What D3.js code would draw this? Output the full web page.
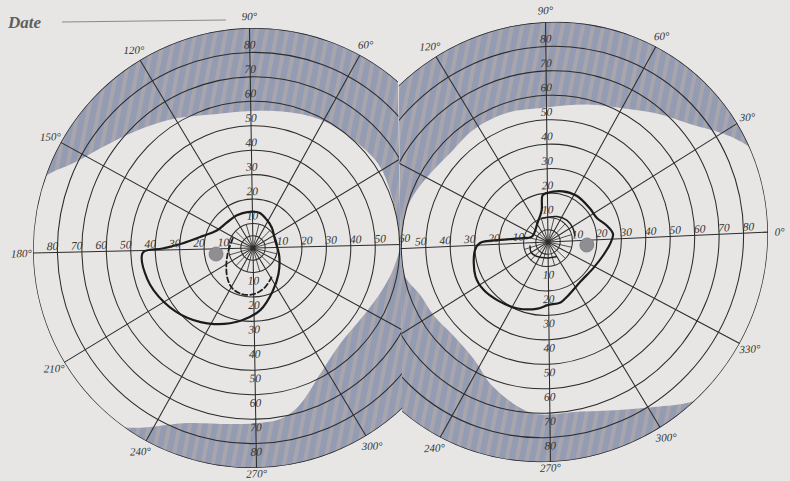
<!DOCTYPE html>
<html>
<head>
<meta charset="utf-8">
<script src="https://cdn.jsdelivr.net/npm/d3@7"></script>
<style>
  html, body { margin: 0; padding: 0; background: #e8e6e4; }
  svg { display: block; }
  text { font-family: "Liberation Serif", "DejaVu Serif", serif; font-style: italic; }
</style>
</head>
<body>
<svg id="chart" width="790" height="481"></svg>
<script>
// ---- Chart data --------------------------------------------------------
// Perimeter grid: isopter rings (degrees from fixation) and meridians.
const ringDegrees = [5, 10, 20, 30, 40, 50, 60, 70, 80, 90];
const meridians = [0, 30, 60, 90, 120, 150, 180, 210, 240, 270, 300, 330];
const innerMeridians = [15, 45, 75, 105, 135, 165, 195, 225, 255, 285, 315, 345];
const tickValues = [10, 20, 30, 40, 50, 60, 70, 80];

// Meridian labels printed around each field
const leftMeridianLabels = [60, 90, 120, 150, 180, 210, 240, 270, 300];
const rightMeridianLabels = [0, 30, 60, 90, 120, 240, 270, 300, 330];

// Ring numbers printed along the horizontal meridian
const leftEyeTicksTemporal = [80, 70, 60, 50, 40, 30, 20, 10];
const leftEyeTicksNasal = [10, 20, 30, 40, 50, 60];
const rightEyeTicksNasal = [50, 40, 30, 20, 10];
const rightEyeTicksTemporal = [10, 20, 30, 40, 50, 60, 70, 80];

// Normal field limits [meridian°, extent°]; outside is shaded
const leftNormalLimit = [
  [0, 60], [20, 60.5], [33, 61.5], [47, 60], [62, 59], [77, 57], [90, 56],
  [105, 57], [120, 62], [132, 67], [143, 73], [153, 81], [161, 91],
  [180, 96], [200, 96], [220, 96], [232, 91], [249, 76], [262, 72.5],
  [271, 71.6], [278, 71], [285, 67.5], [298, 58], [312, 53], [326, 53],
  [340, 55.5], [350, 58]
];
const rightNormalLimit = [
  [0, 96], [12, 96], [18, 93], [23, 90], [27, 86], [30.5, 82], [37, 75],
  [47, 68.5], [59, 62], [73, 58], [91, 55], [107, 56], [122, 56], [136, 55],
  [150, 57], [162, 59.5], [175, 60], [190, 60], [200, 56], [211, 54.7],
  [223, 53.5], [237, 56], [248, 62.4], [264, 70], [280, 71], [294, 76.5],
  [303, 82.7], [310, 89], [320, 96], [340, 96]
];

// Recorded fields [meridian°, extent°]
const leftFieldOuter = [
  [181, 45], [179, 37], [175, 29], [165, 21], [153, 16.5], [135, 15],
  [116, 15], [98, 14.9], [79, 14.6], [63, 12.8], [46, 11.3], [20, 9.6],
  [341, 11.3], [313, 15], [293, 19.6], [276, 25.5], [260, 30], [242, 34.8],
  [226, 39], [210, 42.5], [195, 45]
];
const leftFieldDashed = [
  [153, 9.2], [189, 10.4], [212, 13], [229, 16.2], [242, 18.5],
  [256.5, 19.4], [271, 18.8], [285, 17], [301, 14.3]
];
const rightFieldOuter = [
  [184, 30], [178.3, 27.8], [175, 19.7], [170, 11.6], [159, 7],
  [116.6, 9.2], [100.6, 13.3], [96, 19.3], [91, 20], [73, 21.4], [57, 21.9],
  [37, 21.6], [24, 22], [13, 24.8], [4.4, 26.7], [355.4, 25.4],
  [343.8, 23.4], [328, 21.7], [308, 21.3], [289, 23.8], [281, 25.4],
  [269, 25.8], [260.5, 27.4], [244.5, 29.5], [227.7, 31], [214.7, 32.3],
  [203, 32.4]
];
const rightFieldInner = [[104, 10.1], [70, 10.9], [48, 11.6], [27.5, 11.5], [10.5, 11.2]];
const rightFieldInnerLower = [[190, 7.5], [210, 8], [232, 7.3], [270, 6.5], [298, 7]];

// Blind spots [meridian°, eccentricity°]
const leftBlindSpot = [188, 15.3];
const rightBlindSpot = [353, 16];

// ---- Drawing ------------------------------------------------------------
const svg = d3.select("#chart");
const W = 790, H = 481;
const INK = "#2c2c2c";

svg.append("rect").attr("width", W).attr("height", H).attr("fill", "#e8e6e4");

const r = d3.scaleLinear().domain([0, 90]).range([0, 220]);
const toRad = a => (90 - a) * Math.PI / 180;

const defs = svg.append("defs");
const pat = defs.append("pattern")
  .attr("id", "shade").attr("patternUnits", "userSpaceOnUse")
  .attr("width", 10).attr("height", 10)
  .attr("patternTransform", "rotate(12)");
pat.append("rect").attr("width", 10).attr("height", 10).attr("fill", "#949cb3");
pat.append("rect").attr("width", 4).attr("height", 10).attr("fill", "#a9a5ad");

const closedRadial = d3.lineRadial()
  .angle(d => toRad(d[0])).radius(d => r(d[1]))
  .curve(d3.curveCatmullRomClosed.alpha(0.5));
const openRadial = d3.lineRadial()
  .angle(d => toRad(d[0])).radius(d => r(d[1]))
  .curve(d3.curveCatmullRom.alpha(0.5));

const polar = (a, v) => [r(v) * Math.cos(a * Math.PI / 180), -r(v) * Math.sin(a * Math.PI / 180)];

function drawEye(cfg) {
  const g = svg.append("g")
    .attr("transform", `matrix(${cfg.skew.join(",")},${cfg.cx},${cfg.cy})`);

  // each field is bounded by its outer ring and the line midway between centres
  const R = r(90);
  const hx = cfg.half;
  const hy = Math.sqrt(R * R - hx * hx);
  defs.append("clipPath").attr("id", cfg.id + "-clip")
    .append("path")
    .attr("d", `M${hx},${-hy}A${R},${R} 0 1 ${cfg.side < 0 ? 0 : 1} ${hx},${hy}Z`);

  const body = g.append("g").attr("clip-path", `url(#${cfg.id}-clip)`);

  // shaded area outside the normal limit
  body.append("path")
    .attr("d", "M-400,-400H400V400H-400Z" + closedRadial(cfg.limit))
    .attr("fill", "url(#shade)").attr("fill-rule", "evenodd");

  body.selectAll("circle.ring").data(ringDegrees).join("circle")
    .attr("class", "ring").attr("r", d => r(d))
    .attr("fill", "none").attr("stroke", INK)
    .attr("stroke-width", d => d === 90 ? 1.4 : 1.05);

  body.selectAll("line.mer").data(meridians).join("line")
    .attr("class", "mer")
    .attr("x1", 0).attr("y1", 0)
    .attr("x2", d => polar(d, 90)[0]).attr("y2", d => polar(d, 90)[1])
    .attr("stroke", INK).attr("stroke-width", 1.05);

  body.selectAll("line.imer").data(innerMeridians).join("line")
    .attr("class", "imer")
    .attr("x1", 0).attr("y1", 0)
    .attr("x2", d => polar(d, 10)[0]).attr("y2", d => polar(d, 10)[1])
    .attr("stroke", INK).attr("stroke-width", 0.8);

  body.append("circle").attr("r", 1.8).attr("fill", INK);

  // blind spot
  const bs = polar(cfg.blind[0], cfg.blind[1]);
  body.append("circle").attr("cx", bs[0]).attr("cy", bs[1]).attr("r", 7)
    .attr("fill", "#8f8f93").attr("stroke", "#7a7a7e").attr("stroke-width", 0.8);

  // recorded field
  cfg.closed.forEach(c => {
    body.append("path").attr("d", closedRadial(c))
      .attr("fill", "none").attr("stroke", "#1b1b1b").attr("stroke-width", 2.2)
      .attr("stroke-linejoin", "round");
  });
  cfg.open.forEach(o => {
    body.append("path").attr("d", openRadial(o.pts))
      .attr("fill", "none").attr("stroke", "#1f1f1f")
      .attr("stroke-width", o.w)
      .attr("stroke-dasharray", o.dash || null)
      .attr("stroke-linecap", "round");
  });

  // ring numbers along the vertical meridian
  const lab = g.append("g").attr("fill", "#333").attr("font-size", 11.5)
    .attr("text-anchor", "middle");
  tickValues.forEach(v => {
    lab.append("text").attr("x", 0).attr("y", -(r(v) + 8)).attr("dy", "0.35em").text(v);
    lab.append("text").attr("x", 0).attr("y", r(v) + 8).attr("dy", "0.35em").text(v);
  });
  // ring numbers along the horizontal meridian
  cfg.hTicksNeg.forEach(v => {
    lab.append("text").attr("x", -(r(v) + 5)).attr("y", -2.5).text(v);
  });
  cfg.hTicksPos.forEach(v => {
    lab.append("text").attr("x", r(v) + 5).attr("y", -2.5).text(v);
  });
  // meridian labels; the bottom one is pulled in to stay on the sheet
  cfg.merLabels.forEach(a => {
    const p = polar(a, a === 270 ? 92.3 : 94.8);
    lab.append("text").attr("x", p[0]).attr("y", p[1]).attr("dy", "0.35em")
      .attr("font-size", 11).text(a + "°");
  });
}

drawEye({
  id: "left", cx: 253, cy: 248, skew: [1, -0.023, 0.016, 1], half: 147.5, side: -1,
  limit: leftNormalLimit, blind: leftBlindSpot,
  closed: [leftFieldOuter],
  open: [{ pts: leftFieldDashed, w: 1.8, dash: "5,3" }],
  hTicksNeg: leftEyeTicksTemporal, hTicksPos: leftEyeTicksNasal,
  merLabels: leftMeridianLabels
});

drawEye({
  id: "right", cx: 548, cy: 242, skew: [1, -0.045, 0.011, 1], half: -147.5, side: 1,
  limit: rightNormalLimit, blind: rightBlindSpot,
  closed: [rightFieldOuter],
  open: [{ pts: rightFieldInner, w: 1.5 }, { pts: rightFieldInnerLower, w: 1.5 }],
  hTicksNeg: rightEyeTicksNasal, hTicksPos: rightEyeTicksTemporal,
  merLabels: rightMeridianLabels
});

// heading
svg.append("text").attr("x", 8).attr("y", 28)
  .attr("font-size", 17).attr("font-weight", "bold").attr("fill", "#5e5e5e")
  .text("Date");
svg.append("line").attr("x1", 62).attr("y1", 22).attr("x2", 226).attr("y2", 20)
  .attr("stroke", "#8a8a8a").attr("stroke-width", 1);
</script>
</body>
</html>
